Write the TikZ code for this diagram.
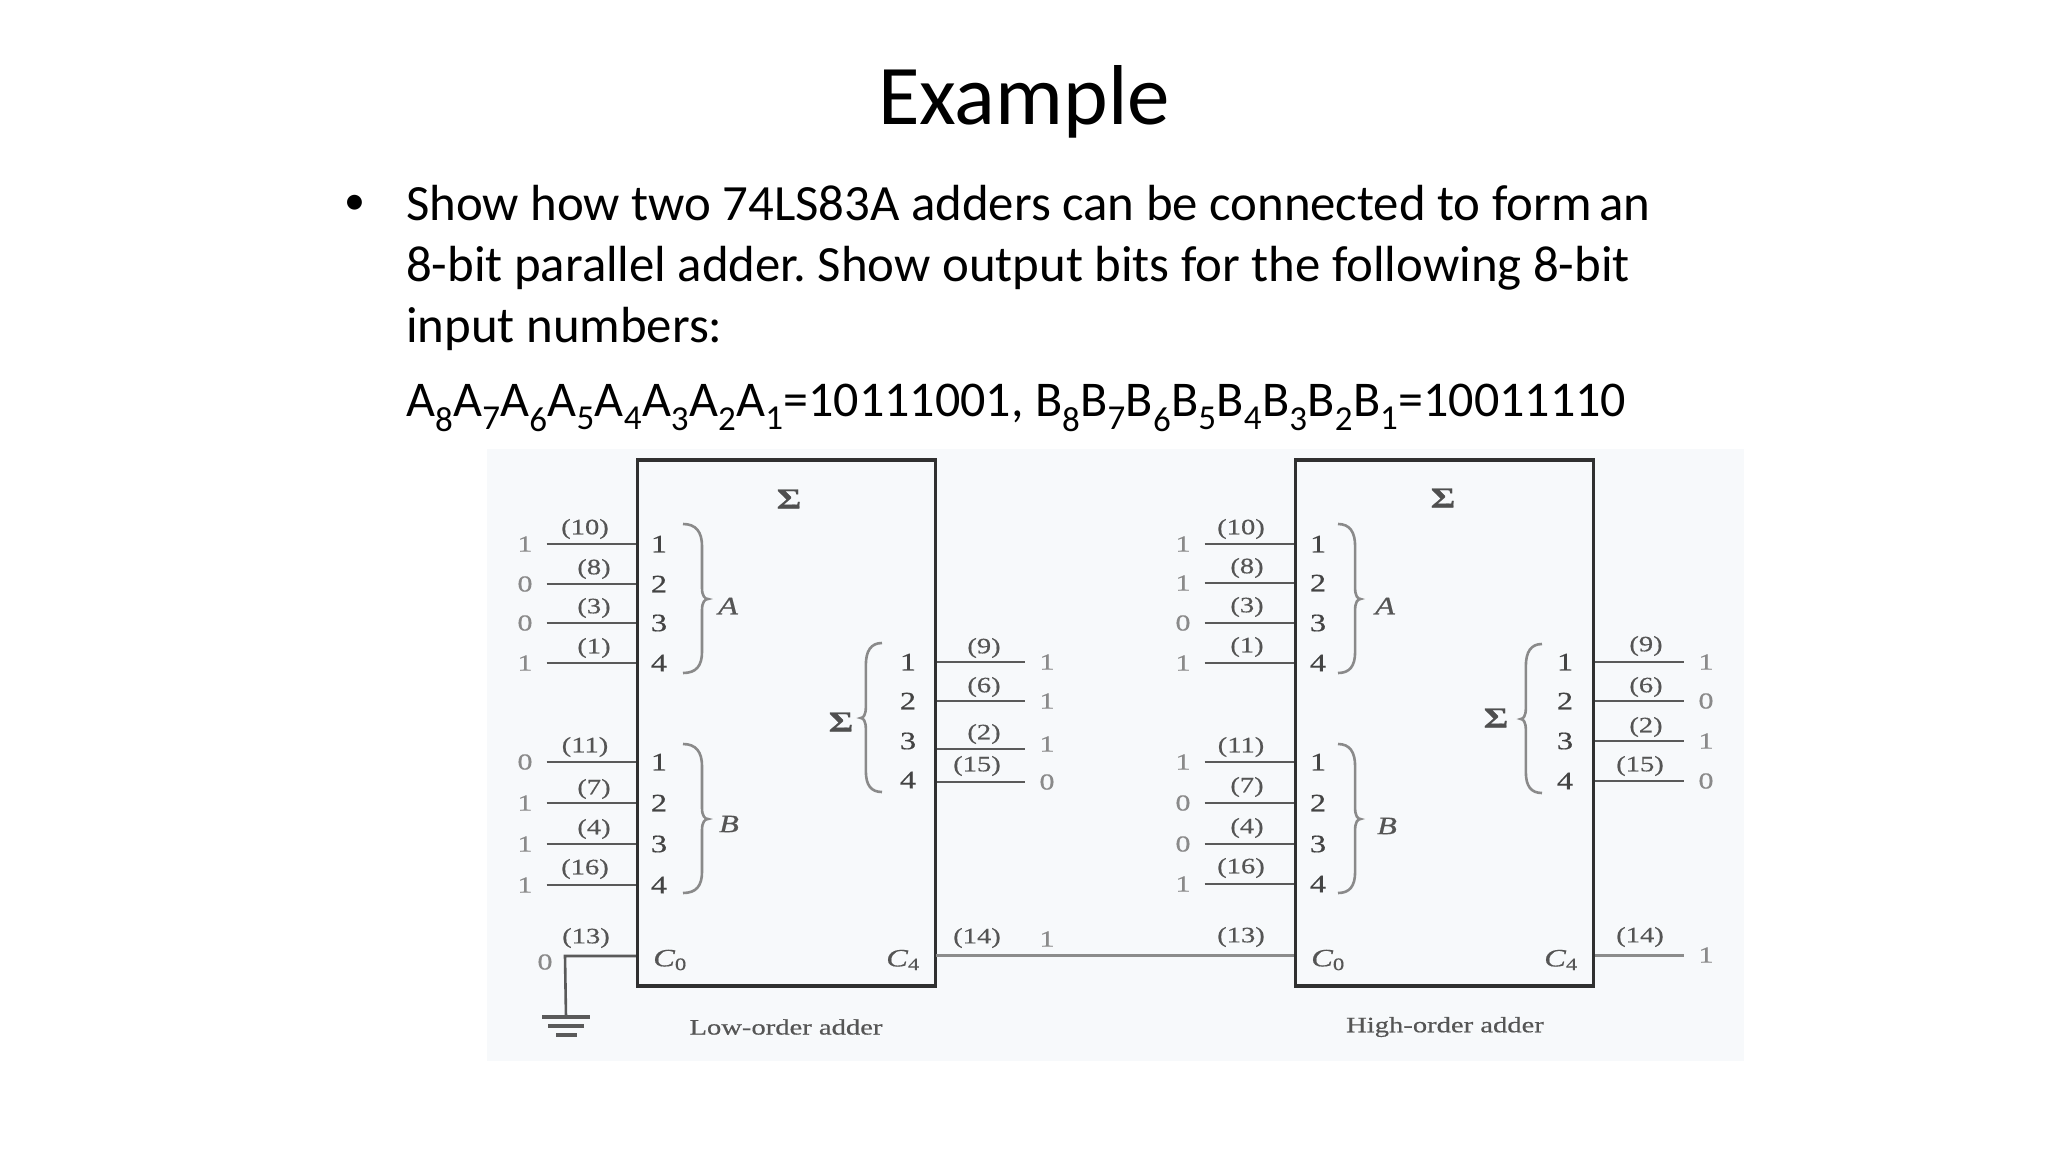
\documentclass[tikz,border=0pt]{standalone}
\usepackage{fontspec}
\usepackage{tikz}
\setmainfont{Carlito}
\newfontfamily\figfont[FakeStretch=1.3,FakeBold=0.5]{Liberation Serif}
\definecolor{photobg}{HTML}{F7F9FB}
\definecolor{boxline}{HTML}{303030}
\definecolor{wireline}{HTML}{5A5A5A}
\definecolor{carryline}{HTML}{8C8C8C}
\definecolor{numtext}{HTML}{555555}
\definecolor{bittext}{HTML}{8A8A8A}
\frenchspacing
\tikzset{
    slidetext/.style={anchor=base west, inner sep=0pt, font=\fontsize{50.8}{60}\selectfont},
    adderbox/.style={draw=boxline, line width=3.5pt, minimum width=298pt, minimum height=526pt},
    wire/.style={draw=wireline, line width=2.6pt},
    carrywire/.style={draw=carryline, line width=3pt},
    bitlabel/.style={text=bittext, inner sep=0pt, minimum width=43pt, font=\figfont\fontsize{23}{23}\selectfont},
    numlabel/.style={text=numtext, inner sep=0pt, font=\figfont\fontsize{22}{22}\selectfont},
    pinlabel/.style={text=numtext!80!black, inner sep=0pt, font=\figfont\fontsize{25}{25}\selectfont},
    sidelabel/.style={text=numtext, inner sep=0pt, font=\figfont\itshape\fontsize{25}{25}\selectfont},
    sumlabel/.style={text=boxline!85!white, inner sep=0pt, font=\figfont\bfseries\fontsize{29}{29}\selectfont},
    captionlabel/.style={text=numtext, inner sep=0pt, font=\figfont\fontsize{22}{22}\selectfont},
    gndbar/.style={fill=wireline, inner sep=0pt, minimum height=3.5pt},
    bracket/.pic={
        \draw[draw=bittext, line width=2.6pt] (0,0) .. controls +(13,0) and +(0,-14) .. (19,22)
            -- (19,64) .. controls +(0,8) and +(-3,0) .. (25,75)
            .. controls +(-3,0) and +(0,-8) .. (19,86)
            -- (19,128) .. controls +(0,14) and +(13,0) .. (0,149);
    }
}

\begin{document}
\begin{tikzpicture}[x=1pt,y=-1pt]
    \useasboundingbox (0,0) rectangle (2048,1152);

    % Draw the scanned background
    \fill[photobg] (487,449) rectangle (1744,1061);

    % Draw the slide text
    \node[anchor=base, inner sep=0pt, font=\fontsize{85}{95}\selectfont] (title) at (1024,124) {Example};
    \node[inner sep=0pt, font=\fontsize{42}{42}\selectfont] (bullet) at (355,205) {•};
    \node[slidetext] (line1) at (406,220) {Show how two 74LS83A adders can be connected to form\hspace{-0.08em} an};
    \node[slidetext] (line2) at (406,281) {8-bit parallel adder. Show output bits for the following 8-bit};
    \node[slidetext] (line3) at (406,342) {input numbers:};
    \node[slidetext, font=\fontsize{50}{60}\selectfont] (line4) at (406,416) {A\textsubscript{8}A\textsubscript{7}A\textsubscript{6}A\textsubscript{5}A\textsubscript{4}A\textsubscript{3}A\textsubscript{2}A\textsubscript{1}=10111001, B\textsubscript{8}B\textsubscript{7}B\textsubscript{6}B\textsubscript{5}B\textsubscript{4}B\textsubscript{3}B\textsubscript{2}B\textsubscript{1}=10011110};

    % Draw the adder rectangles
    \node[adderbox] (low) at (786.5,723) {};
    \node[adderbox] (high) at (1444.5,723) {};
    \node[sumlabel] (lowsum) at (789,499) {Σ};
    \node[sumlabel] (highsum) at (1443,498) {Σ};
    \node[captionlabel] (lowcaption) at (786,1027) {Low-order adder};
    \node[captionlabel] (highcaption) at (1445,1027) {High-order adder};

    % Draw the low-order A inputs
    \node[bitlabel] (lowa1) at (525,544) {1}; \node[numlabel] (lownuma1) at (585,529) {(10)}; \node[pinlabel] (lowpina1) at (659,544) {1};
    \node[bitlabel] (lowa2) at (525,584) {0}; \node[numlabel] (lownuma2) at (594,569) {(8)}; \node[pinlabel] (lowpina2) at (659,584) {2};
    \node[bitlabel] (lowa3) at (525,623) {0}; \node[numlabel] (lownuma3) at (594,608) {(3)}; \node[pinlabel] (lowpina3) at (659,623) {3};
    \node[bitlabel] (lowa4) at (525,663) {1}; \node[numlabel] (lownuma4) at (594,648) {(1)}; \node[pinlabel] (lowpina4) at (659,663) {4};
    \draw[wire] (lowa1) -- (lowa1 -| low.west);
    \draw[wire] (lowa2) -- (lowa2 -| low.west);
    \draw[wire] (lowa3) -- (lowa3 -| low.west);
    \draw[wire] (lowa4) -- (lowa4 -| low.west);
    \pic at (683,524) {bracket};
    \node[sidelabel] (lowalabel) at (728,606) {A};

    % Draw the low-order B inputs
    \node[bitlabel] (lowb1) at (525,762) {0}; \node[numlabel] (lownumb1) at (585,747) {(11)}; \node[pinlabel] (lowpinb1) at (659,762) {1};
    \node[bitlabel] (lowb2) at (525,803) {1}; \node[numlabel] (lownumb2) at (594,789) {(7)}; \node[pinlabel] (lowpinb2) at (659,803) {2};
    \node[bitlabel] (lowb3) at (525,844) {1}; \node[numlabel] (lownumb3) at (594,829) {(4)}; \node[pinlabel] (lowpinb3) at (659,844) {3};
    \node[bitlabel] (lowb4) at (525,885) {1}; \node[numlabel] (lownumb4) at (585,869) {(16)}; \node[pinlabel] (lowpinb4) at (659,885) {4};
    \draw[wire] (lowb1) -- (lowb1 -| low.west);
    \draw[wire] (lowb2) -- (lowb2 -| low.west);
    \draw[wire] (lowb3) -- (lowb3 -| low.west);
    \draw[wire] (lowb4) -- (lowb4 -| low.west);
    \pic at (683,744) {bracket};
    \node[sidelabel] (lowblabel) at (729,824) {B};

    % Draw the low-order sum outputs
    \node[bitlabel] (lows1) at (1047,662) {1}; \node[numlabel] (lownums1) at (984,648) {(9)}; \node[pinlabel] (lowpins1) at (908,662) {1};
    \node[bitlabel] (lows2) at (1047,701) {1}; \node[numlabel] (lownums2) at (984,687) {(6)}; \node[pinlabel] (lowpins2) at (908,701) {2};
    \node[bitlabel] (lows3) at (1047,744) {1}; \node[numlabel] (lownums3) at (984,734) {(2)}; \node[pinlabel] (lowpins3) at (908,741) {3};
    \node[bitlabel] (lows4) at (1047,782) {0}; \node[numlabel] (lownums4) at (977,766) {(15)}; \node[pinlabel] (lowpins4) at (908,780) {4};
    \coordinate (lowtap3) at (1025,749);
    \draw[wire] (lows1 -| low.east) -- (lows1);
    \draw[wire] (lows2 -| low.east) -- (lows2);
    \draw[wire] (lowtap3 -| low.east) -- (lowtap3);
    \draw[wire] (lows4 -| low.east) -- (lows4);
    \pic[xscale=-0.85] at (882,643) {bracket};
    \node[sumlabel] (lowsumside) at (841,722) {Σ};

    % Draw the low-order carry in and ground
    \coordinate (lowcorner) at (565,956);
    \node[bitlabel] (lowc0) at (545,962) {0};
    \node[numlabel] (lownumc0) at (586,938) {(13)};
    \node[sidelabel] (lowpinc0) at (670,960) {C\textsubscript{\upshape 0}};
    \node[gndbar, minimum width=48pt] (gnd1) at (566,1017) {};
    \node[gndbar, minimum width=36pt] (gnd2) at (566,1026) {};
    \node[gndbar, minimum width=21pt] (gnd3) at (566,1035) {};
    \draw[wire] (lowcorner -| low.west) -- (lowcorner) -- (gnd1);

    % Draw the carry between the adders
    \coordinate (lowcarry) at (936,955);
    \node[bitlabel] (lowc4) at (1047,939) {1};
    \node[numlabel] (lownumc4) at (977,938) {(14)};
    \node[sidelabel] (lowpinc4) at (903,960) {C\textsubscript{\upshape 4}};
    \draw[carrywire] (lowcarry) -- (lowcarry -| high.west);

    % Draw the high-order A inputs
    \node[bitlabel] (higha1) at (1183,544) {1}; \node[numlabel] (highnuma1) at (1241,529) {(10)}; \node[pinlabel] (highpina1) at (1318,544) {1};
    \node[bitlabel] (higha2) at (1183,583) {1}; \node[numlabel] (highnuma2) at (1247,568) {(8)}; \node[pinlabel] (highpina2) at (1318,583) {2};
    \node[bitlabel] (higha3) at (1183,623) {0}; \node[numlabel] (highnuma3) at (1247,607) {(3)}; \node[pinlabel] (highpina3) at (1318,623) {3};
    \node[bitlabel] (higha4) at (1183,663) {1}; \node[numlabel] (highnuma4) at (1247,647) {(1)}; \node[pinlabel] (highpina4) at (1318,663) {4};
    \draw[wire] (higha1) -- (higha1 -| high.west);
    \draw[wire] (higha2) -- (higha2 -| high.west);
    \draw[wire] (higha3) -- (higha3 -| high.west);
    \draw[wire] (higha4) -- (higha4 -| high.west);
    \pic[xscale=0.9] at (1338,524) {bracket};
    \node[sidelabel] (highalabel) at (1385,606) {A};

    % Draw the high-order B inputs
    \node[bitlabel] (highb1) at (1183,762) {1}; \node[numlabel] (highnumb1) at (1241,747) {(11)}; \node[pinlabel] (highpinb1) at (1318,762) {1};
    \node[bitlabel] (highb2) at (1183,803) {0}; \node[numlabel] (highnumb2) at (1247,787) {(7)}; \node[pinlabel] (highpinb2) at (1318,803) {2};
    \node[bitlabel] (highb3) at (1183,844) {0}; \node[numlabel] (highnumb3) at (1247,828) {(4)}; \node[pinlabel] (highpinb3) at (1318,844) {3};
    \node[bitlabel] (highb4) at (1183,884) {1}; \node[numlabel] (highnumb4) at (1241,868) {(16)}; \node[pinlabel] (highpinb4) at (1318,884) {4};
    \draw[wire] (highb1) -- (highb1 -| high.west);
    \draw[wire] (highb2) -- (highb2 -| high.west);
    \draw[wire] (highb3) -- (highb3 -| high.west);
    \draw[wire] (highb4) -- (highb4 -| high.west);
    \pic[xscale=0.9] at (1338,744) {bracket};
    \node[sidelabel] (highblabel) at (1387,826) {B};

    % Draw the high-order sum outputs
    \node[bitlabel] (highs1) at (1706,662) {1}; \node[numlabel] (highnums1) at (1646,646) {(9)}; \node[pinlabel] (highpins1) at (1565,662) {1};
    \node[bitlabel] (highs2) at (1706,701) {0}; \node[numlabel] (highnums2) at (1646,687) {(6)}; \node[pinlabel] (highpins2) at (1565,701) {2};
    \node[bitlabel] (highs3) at (1706,741) {1}; \node[numlabel] (highnums3) at (1646,727) {(2)}; \node[pinlabel] (highpins3) at (1565,741) {3};
    \node[bitlabel] (highs4) at (1706,781) {0}; \node[numlabel] (highnums4) at (1640,766) {(15)}; \node[pinlabel] (highpins4) at (1565,781) {4};
    \draw[wire] (highs1 -| high.east) -- (highs1);
    \draw[wire] (highs2 -| high.east) -- (highs2);
    \draw[wire] (highs3 -| high.east) -- (highs3);
    \draw[wire] (highs4 -| high.east) -- (highs4);
    \pic[xscale=-0.85] at (1542,644) {bracket};
    \node[sumlabel] (highsumside) at (1496,718) {Σ};

    % Draw the high-order carry pins
    \node[numlabel] (highnumc0) at (1241,937) {(13)};
    \node[sidelabel] (highpinc0) at (1328,960) {C\textsubscript{\upshape 0}};
    \node[sidelabel] (highpinc4) at (1561,960) {C\textsubscript{\upshape 4}};
    \node[bitlabel] (highc4) at (1706,955) {1};
    \node[numlabel] (highnumc4) at (1640,937) {(14)};
    \draw[carrywire] (highc4 -| high.east) -- (highc4);
\end{tikzpicture}
\end{document}
